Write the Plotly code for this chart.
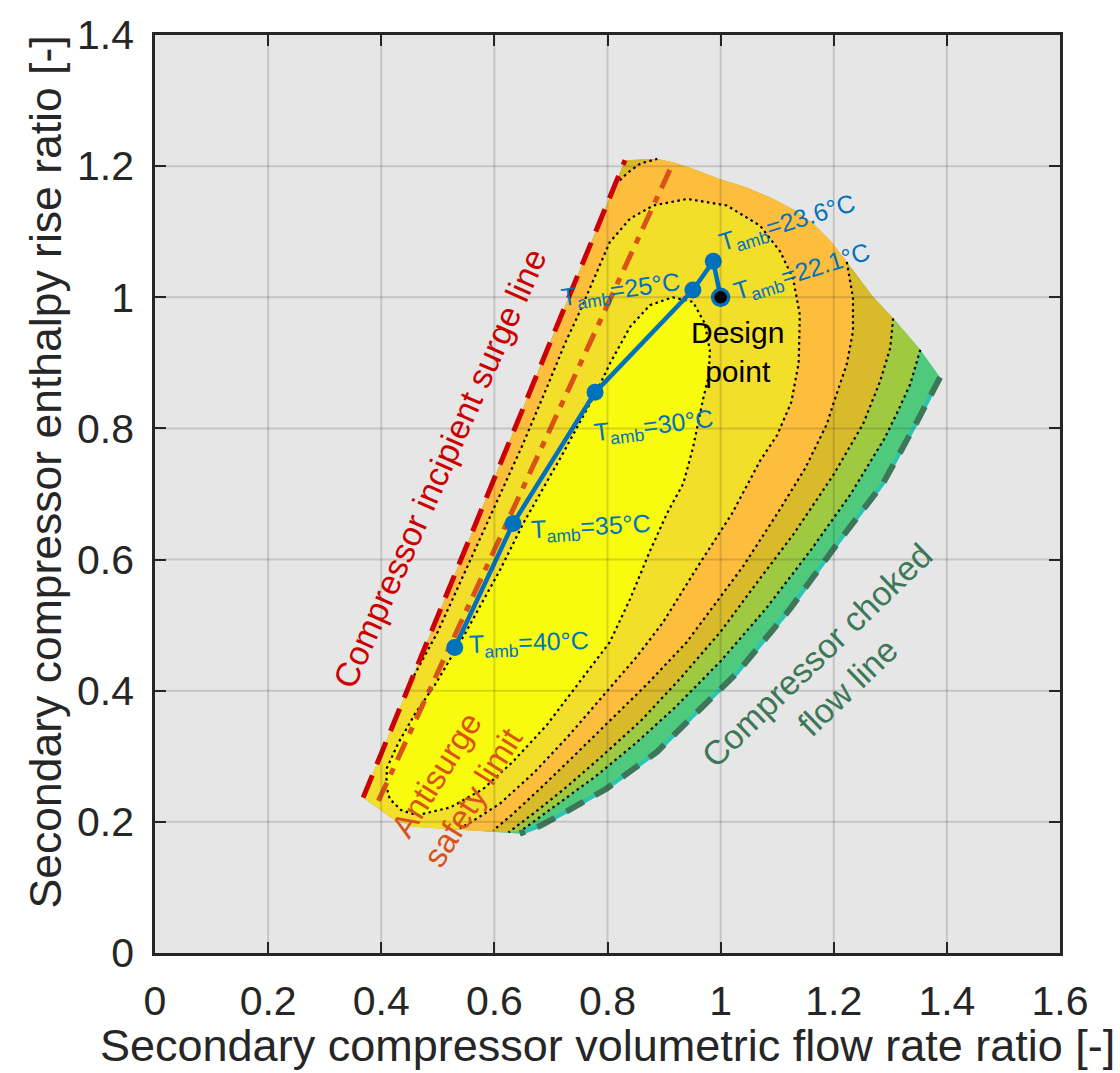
import plotly.graph_objects as go

FONT = "Liberation Sans, Arial, Helvetica, sans-serif"

# ---------------- axes ----------------
X_TICKS = [0, 0.2, 0.4, 0.6, 0.8, 1.0, 1.2, 1.4, 1.6]
X_TICK_TEXT = ["0", "0.2", "0.4", "0.6", "0.8", "1", "1.2", "1.4", "1.6"]
Y_TICKS = [0, 0.2, 0.4, 0.6, 0.8, 1.0, 1.2, 1.4]
Y_TICK_TEXT = ["0", "0.2", "0.4", "0.6", "0.8", "1", "1.2", "1.4"]

# ---------------- operating envelope of the map ----------------
SURGE_X = [0.368, 0.831]
SURGE_Y = [0.237, 1.209]
TOP_X = [0.831, 0.887, 0.915, 0.95, 0.999, 1.047, 1.093, 1.13, 1.164, 1.195, 1.223, 1.27, 1.305, 1.353, 1.388]
TOP_Y = [1.209, 1.211, 1.206, 1.196, 1.18, 1.167, 1.150, 1.133, 1.112, 1.085, 1.054, 1.0, 0.968, 0.92, 0.878]
CHOKE_X = [1.388, 1.347, 1.287, 1.206, 1.123, 1.029, 0.946, 0.888, 0.84, 0.799, 0.734, 0.681, 0.645]
CHOKE_Y = [0.878, 0.81, 0.716, 0.624, 0.525, 0.427, 0.357, 0.307, 0.277, 0.251, 0.219, 0.194, 0.182]
BOTTOM_X = [0.645, 0.575, 0.5, 0.456, 0.42, 0.395, 0.368]
BOTTOM_Y = [0.182, 0.186, 0.19, 0.193, 0.205, 0.22, 0.237]

# ---------------- efficiency contour lines ----------------
# C1: bright yellow core (closed)
C1_X = [0.463, 0.522, 0.58, 0.633, 0.693, 0.751, 0.804, 0.84, 0.875, 0.905, 0.934, 0.951, 0.969, 0.979,
        0.981, 0.972, 0.951, 0.915, 0.875, 0.84, 0.805, 0.781, 0.72, 0.651, 0.61, 0.55, 0.498, 0.46,
        0.43, 0.41, 0.409, 0.415, 0.435, 0.463]
C1_Y = [0.21, 0.222, 0.25, 0.292, 0.348, 0.413, 0.474, 0.54, 0.613, 0.67, 0.716, 0.77, 0.845, 0.88,
        0.919, 0.96, 0.993, 1.0, 0.988, 0.955, 0.9, 0.857, 0.76, 0.655, 0.584, 0.49, 0.413, 0.365,
        0.32, 0.282, 0.255, 0.235, 0.218, 0.21]
# C2: darker yellow / orange boundary (surge line -> bottom)
C2_X = [0.453, 0.5, 0.55, 0.6, 0.65, 0.695, 0.725, 0.751, 0.78, 0.804, 0.84, 0.881, 0.941, 1.011, 1.07,
        1.105, 1.128, 1.14, 1.138, 1.125, 1.10, 1.07, 1.02, 0.96, 0.898, 0.85, 0.79, 0.73, 0.67, 0.61,
        0.565, 0.539]
C2_Y = [0.415, 0.49, 0.585, 0.68, 0.775, 0.867, 0.93, 0.978, 1.035, 1.084, 1.12, 1.14, 1.15, 1.14, 1.109,
        1.07, 1.029, 0.973, 0.9, 0.84, 0.79, 0.751, 0.67, 0.59, 0.504, 0.45, 0.39, 0.33, 0.275, 0.228,
        0.203, 0.19]
# C3: orange / gold boundary (small corner piece + main piece)
C3A_X = [0.814, 0.836, 0.858, 0.888]
C3A_Y = [1.172, 1.19, 1.204, 1.211]
C3B_X = [1.223, 1.234, 1.234, 1.223, 1.199, 1.188, 1.15, 1.10, 1.04, 0.98, 0.94, 0.87, 0.80, 0.74, 0.68,
         0.63, 0.598]
C3B_Y = [1.054, 0.999, 0.948, 0.898, 0.837, 0.807, 0.74, 0.67, 0.59, 0.52, 0.474, 0.41, 0.35, 0.3, 0.25,
         0.21, 0.187]
# C4: gold / green boundary
C4_X = [1.305, 1.3, 1.282, 1.252, 1.2, 1.13, 1.06, 1.0, 0.93, 0.86, 0.79, 0.73, 0.68, 0.64, 0.625]
C4_Y = [0.968, 0.923, 0.872, 0.807, 0.73, 0.64, 0.56, 0.49, 0.42, 0.355, 0.3, 0.255, 0.22, 0.193, 0.184]
# C5: green / teal boundary
C5_X = [1.353, 1.335, 1.311, 1.29, 1.23, 1.16, 1.08, 1.0, 0.92, 0.85, 0.78, 0.72, 0.675, 0.645]
C5_Y = [0.92, 0.867, 0.822, 0.785, 0.7, 0.615, 0.525, 0.445, 0.375, 0.32, 0.27, 0.232, 0.203, 0.185]

# ---------------- antisurge line ----------------
ANTISURGE_X = [0.395, 0.916]
ANTISURGE_Y = [0.232, 1.205]

# ---------------- operating line ----------------
OP_X = [0.530, 0.633, 0.778, 0.951, 0.987, 1.0]
OP_Y = [0.466, 0.655, 0.855, 1.011, 1.055, 1.0]
OP_TEMPS = ["40", "35", "30", "25", "23.6", "22.1"]
DESIGN_X = [1.0]
DESIGN_Y = [1.0]

# ---------------- colours ----------------
TEAL = "#4fca7d"
CYAN = "#2cc4b2"
GREEN = "#9fc940"
GOLD = "#d9ba2b"
ORANGE = "#fdbe3d"
DYELLOW = "#f3de2a"
BYELLOW = "#f9fb0f"
BLUE = "#0072bd"
SURGE_RED = "#cc0000"
ANTI_ORANGE = "#d95319"
CHOKE_GREEN = "#3d7759"
AXIS_COL = "#262626"


def sel(xs, ys, cond):
    px, py = [], []
    for a, b in zip(xs, ys):
        if cond(a):
            px.append(a)
            py.append(b)
    return px, py


fig = go.Figure()


def poly(xs, ys, color):
    fig.add_trace(go.Scatter(x=xs, y=ys, mode="lines", fill="toself", fillcolor=color,
                             line=dict(width=0, color=color), hoverinfo="skip", showlegend=False))


def line(xs, ys, color, width, dash="solid"):
    fig.add_trace(go.Scatter(x=xs, y=ys, mode="lines", line=dict(color=color, width=width, dash=dash),
                             hoverinfo="skip", showlegend=False))


# envelope (teal)
env_x = SURGE_X + TOP_X[1:] + CHOKE_X[1:] + BOTTOM_X[1:]
env_y = SURGE_Y + TOP_Y[1:] + CHOKE_Y[1:] + BOTTOM_Y[1:]
poly(env_x, env_y, TEAL)

# green region
tx, ty = sel(TOP_X, TOP_Y, lambda v: v < C5_X[0])
bx, by = sel(BOTTOM_X, BOTTOM_Y, lambda v: v < C5_X[-1])
poly(SURGE_X + tx[1:] + C5_X + bx, SURGE_Y + ty[1:] + C5_Y + by, GREEN)

# gold region
tx, ty = sel(TOP_X, TOP_Y, lambda v: v < C4_X[0])
bx, by = sel(BOTTOM_X, BOTTOM_Y, lambda v: v < C4_X[-1])
poly(SURGE_X + tx[1:] + C4_X + bx, SURGE_Y + ty[1:] + C4_Y + by, GOLD)

# orange region
tx, ty = sel(TOP_X, TOP_Y, lambda v: C3A_X[-1] < v < C3B_X[0])
bx, by = sel(BOTTOM_X, BOTTOM_Y, lambda v: v < C3B_X[-1])
poly(SURGE_X[:1] + C3A_X + tx + C3B_X + bx, SURGE_Y[:1] + C3A_Y + ty + C3B_Y + by, ORANGE)

# darker yellow region
bx, by = sel(BOTTOM_X, BOTTOM_Y, lambda v: v < C2_X[-1])
poly(SURGE_X[:1] + C2_X + bx, SURGE_Y[:1] + C2_Y + by, DYELLOW)

# bright yellow core
poly(C1_X, C1_Y, BYELLOW)

# dotted contour lines
DOT = "2.5px,3.5px"
for cx, cy in [(C1_X, C1_Y), (C2_X, C2_Y), (C3A_X, C3A_Y), (C3B_X, C3B_Y), (C4_X, C4_Y), (C5_X, C5_Y)]:
    line(cx, cy, "black", 2.2, DOT)

# boundary lines
line(CHOKE_X, CHOKE_Y, CYAN, 4)
line(CHOKE_X, CHOKE_Y, CHOKE_GREEN, 6, "20px,13px")
line(SURGE_X, SURGE_Y, SURGE_RED, 5, "24px,12px")
line(ANTISURGE_X, ANTISURGE_Y, ANTI_ORANGE, 5, "20px,9px,7px,9px")

# operating line
fig.add_trace(go.Scatter(x=OP_X, y=OP_Y, mode="lines", line=dict(color=BLUE, width=4.5),
                         hoverinfo="skip", showlegend=False))
fig.add_trace(go.Scatter(x=OP_X[:-1], y=OP_Y[:-1], mode="markers",
                         marker=dict(color=BLUE, size=17, line=dict(width=0)),
                         hoverinfo="skip", showlegend=False))
fig.add_trace(go.Scatter(x=DESIGN_X, y=DESIGN_Y, mode="markers",
                         marker=dict(color="black", size=16, line=dict(width=3.5, color=BLUE)),
                         hoverinfo="skip", showlegend=False))

# grid lines on top (MATLAB layer top)
shapes = []
for gx in X_TICKS[1:-1]:
    shapes.append(dict(type="line", xref="x", yref="y", x0=gx, x1=gx, y0=0, y1=1.4,
                       line=dict(color="rgba(38,38,38,0.17)", width=2), layer="above"))
for gy in Y_TICKS[1:-1]:
    shapes.append(dict(type="line", xref="x", yref="y", x0=0, x1=1.6, y0=gy, y1=gy,
                       line=dict(color="rgba(38,38,38,0.17)", width=2), layer="above"))

# annotations
LABEL_POS = [(0.661, 0.471, -2), (0.771, 0.648, -3), (0.882, 0.802, -7),
             (0.824, 1.009, -8), (1.118, 1.112, -17), (1.144, 1.037, -17)]
ann = []
for (lx, ly, ang), t in zip(LABEL_POS, OP_TEMPS):
    ann.append(dict(x=lx, y=ly, xref="x", yref="y", showarrow=False, textangle=ang,
                    text="T<sub>amb</sub>=" + t + "°C", font=dict(size=25, color=BLUE, family=FONT),
                    xanchor="center", yanchor="middle"))
ann.append(dict(x=1.029, y=0.917, xref="x", yref="y", showarrow=False, text="Design<br>point",
                font=dict(size=30, color="black", family=FONT), xanchor="center", yanchor="middle"))
ann.append(dict(x=0.504, y=0.739, xref="x", yref="y", showarrow=False, textangle=-66,
                text="Compressor incipient surge line", font=dict(size=34, color=SURGE_RED, family=FONT),
                xanchor="center", yanchor="middle"))
ann.append(dict(x=0.530, y=0.254, xref="x", yref="y", showarrow=False, textangle=-58,
                text="Antisurge<br>safety limit", font=dict(size=33, color=ANTI_ORANGE, family=FONT),
                xanchor="center", yanchor="middle"))
ann.append(dict(x=1.197, y=0.43, xref="x", yref="y", showarrow=False, textangle=-44,
                text="Compressor choked<br>flow line", font=dict(size=34, color=CHOKE_GREEN, family=FONT),
                xanchor="center", yanchor="middle"))
ann.append(dict(x=0.5, y=-0.1005, xref="paper", yref="paper", showarrow=False,
                text="Secondary compressor volumetric flow rate ratio [-]",
                font=dict(size=45, color=AXIS_COL, family=FONT), xanchor="center", yanchor="middle"))
ann.append(dict(x=-0.121, y=0.524, xref="paper", yref="paper", showarrow=False, textangle=-90,
                text="Secondary compressor enthalpy rise ratio [-]",
                font=dict(size=44.5, color=AXIS_COL, family=FONT), xanchor="center", yanchor="middle"))

axis_common = dict(ticks="inside", ticklen=11, tickwidth=1.5, tickcolor=AXIS_COL, showline=True,
                   linecolor=AXIS_COL, linewidth=2.5, mirror="ticks", showgrid=False, zeroline=False,
                   tickfont=dict(size=41, color=AXIS_COL, family=FONT))

fig.update_layout(
    width=1120, height=1073,
    margin=dict(l=155, r=60, t=28, b=120),
    plot_bgcolor="#e6e6e6", paper_bgcolor="white",
    xaxis=dict(range=[0, 1.6], tickvals=X_TICKS, ticktext=X_TICK_TEXT, ticklabelstandoff=10, **axis_common),
    yaxis=dict(range=[0, 1.4], tickvals=Y_TICKS, ticktext=Y_TICK_TEXT, ticklabelstandoff=10, **axis_common),
    shapes=shapes, annotations=ann, showlegend=False,
)

fig.write_html("out.html")
